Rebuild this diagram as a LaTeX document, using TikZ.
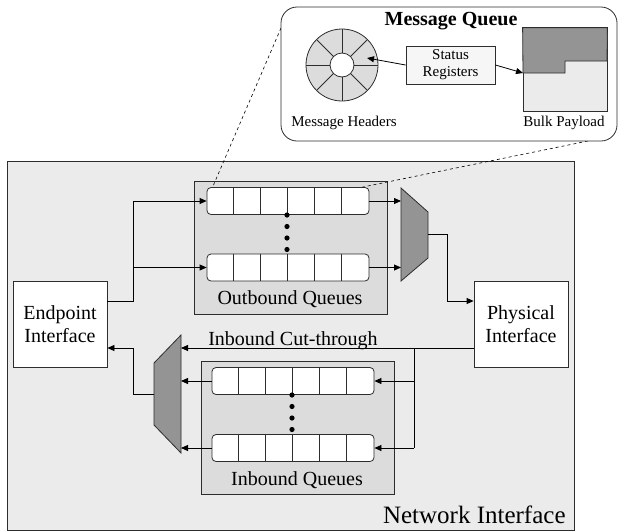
\documentclass[tikz,border=0pt]{standalone}
\usepackage{fontspec}
\setmainfont{Liberation Serif}
\usetikzlibrary{arrows.meta}

\definecolor{nifill}{RGB}{235,235,235}
\definecolor{qfill}{RGB}{220,220,220}
\definecolor{muxfill}{RGB}{148,148,148}
\definecolor{srfill}{RGB}{246,246,246}
\definecolor{edge}{RGB}{45,45,45}

\tikzset{
  >={Triangle[length=7pt,width=6pt]},
  unit/.style={draw=edge, fill=white, align=center, inner sep=0pt,
    minimum width=94pt, minimum height=86pt, font=\fontsize{20}{23}\selectfont},
  qgroup/.style={draw=edge, fill=qfill, inner sep=0pt, minimum width=193pt, minimum height=133pt},
  slots/.style={draw=edge, fill=white, rounded corners=4pt, inner sep=0pt,
    minimum width=162pt, minimum height=27pt},
  lbl/.style={inner sep=0pt, font=\fontsize{20}{23}\selectfont},
  small/.style={inner sep=0pt, font=\fontsize{15}{17}\selectfont},
  wire/.style={draw=black, line width=0.8pt},
  zoomline/.style={draw=black, dashed, line width=0.6pt}
}

% queue with six slots: name, x, y
\newcommand{\queuebar}[3]{%
  \node[slots] (#1) at (#2,#3) {};
  \foreach \k in {1,...,5}
    \draw[edge, line width=0.7pt] ([xshift=\k*27pt]#1.north west) -- ([xshift=\k*27pt]#1.south west);
}

\begin{document}
\begin{tikzpicture}[x=1pt, y=-1pt, line width=0.8pt]
\useasboundingbox (0,0) rectangle (618,531);

% network interface
\node[draw=edge, fill=nifill, inner sep=0pt, minimum width=567pt, minimum height=369pt] (ni) at (290.5,345.5) {};
\node[inner sep=0pt, font=\fontsize{25}{28}\selectfont, anchor=base east] (nilbl) at (566,523) {Network Interface};

% side units
\node[unit] (ep) at (60,324) {Endpoint\\Interface};
\node[unit] (pi) at (521,324) {Physical\\Interface};

% outbound queues
\node[qgroup] (og) at (290.5,247.5) {};
\node[lbl, anchor=base] (ogl) at (290,304) {Outbound Queues};
\queuebar{oq1}{288}{201}
\queuebar{oq2}{288}{267.5}
\foreach \dy in {215,226.5,238,249.5}
  \fill (287,\dy) circle (2.6);

% inbound queues
\node[qgroup] (ig) at (297.5,427.5) {};
\node[lbl, anchor=base] (igl) at (297,485) {Inbound Queues};
\queuebar{iq1}{293}{381}
\queuebar{iq2}{293}{448}
\foreach \dy in {395,406.5,418,429.5}
  \fill (292,\dy) circle (2.6);

% multiplexers
\coordinate (mo1) at (401,188);
\coordinate (mo2) at (428,212);
\coordinate (mo3) at (428,258);
\coordinate (mo4) at (401,281);
\coordinate (moout) at (428,234);
\filldraw[fill=muxfill, draw=edge] (mo1) -- (mo2) -- (mo3) -- (mo4) -- cycle;

\coordinate (mi1) at (181,335);
\coordinate (mi2) at (181,453);
\coordinate (mi3) at (154,425);
\coordinate (mi4) at (154,363);
\coordinate (miout) at (154,394);
\filldraw[fill=muxfill, draw=edge] (mi1) -- (mi2) -- (mi3) -- (mi4) -- cycle;

% outbound path
\coordinate (ofork) at (133,301);
\draw[wire,->] ([yshift=23pt]ep.east) -| (ofork |- oq1.west) -- (oq1.west);
\draw[wire,->] (ofork |- oq2.west) -- (oq2.west);
\draw[wire,->] (oq1.east) -- (oq1.east -| mo1);
\draw[wire,->] (oq2.east) -- (oq2.east -| mo1);
\coordinate (ojog) at (447,301);
\draw[wire,->] (moout) -| (ojog) -- (ojog -| pi.west);

% inbound path
\draw[wire,->] ([yshift=-24pt]pi.west) -- ([yshift=-24pt]pi.west -| mi1);
\node[lbl, anchor=base] (ct) at (293,345) {Inbound Cut-through};
\coordinate (ifork) at (414,348);
\draw[wire] (ifork) -- (ifork |- iq2.east);
\draw[wire,->] (ifork |- iq1.east) -- (iq1.east);
\draw[wire,->] (ifork |- iq2.east) -- (iq2.east);
\draw[wire,->] (iq1.west) -- (iq1.west -| mi1);
\draw[wire,->] (iq2.west) -- (iq2.west -| mi1);
\coordinate (ijog) at (133,394);
\draw[wire,->] (miout) -- (ijog) |- ([yshift=-24pt]ep.east);

% zoom lines
\coordinate (zl) at (281,28);
\coordinate (zr) at (588,141);
\draw[zoomline] (zl) -- ([xshift=6pt]oq1.north west);
\draw[zoomline] (zr) -- ([xshift=-7pt]oq1.north east);

% message queue callout
\node[draw=edge, fill=white, rounded corners=16pt, inner sep=0pt, minimum width=336pt, minimum height=134pt] (mq) at (449,74) {};
\node[inner sep=0pt, font=\bfseries\fontsize{20}{23}\selectfont, anchor=base] (mqt) at (451,25) {Message Queue};

% header ring
\coordinate (ring) at (342,65);
\filldraw[fill=qfill, draw=edge] (ring) circle (36);
\filldraw[fill=white, draw=edge] (ring) circle (12);
\foreach \a in {0,45,...,315}
  \draw[edge] (ring) ++(\a:12) -- ++(\a:24);
\node[small, anchor=base] (mhl) at (344,126) {Message Headers};

% status registers
\node[draw=edge, fill=srfill, small, align=center, minimum width=89pt, minimum height=38pt] (sr) at (450.5,65) {Status\\Registers};

% bulk payload
\node[draw=edge, fill=nifill, inner sep=0pt, minimum width=84pt, minimum height=83pt] (bp) at (565,69.5) {};
\filldraw[fill=muxfill, draw=edge] (bp.north west) -- (bp.north east) -- (607,61) -- (565,61) -- (565,73) -- (523,73) -- cycle;
\node[small, anchor=base] (bpl) at (564,126) {Bulk Payload};

\coordinate (slot) at (367,58);
\coordinate (cut) at (523,73);
\draw[wire,->] (sr.west) -- (slot);
\draw[wire,->] (sr.east) -- (cut);
\end{tikzpicture}
\end{document}
